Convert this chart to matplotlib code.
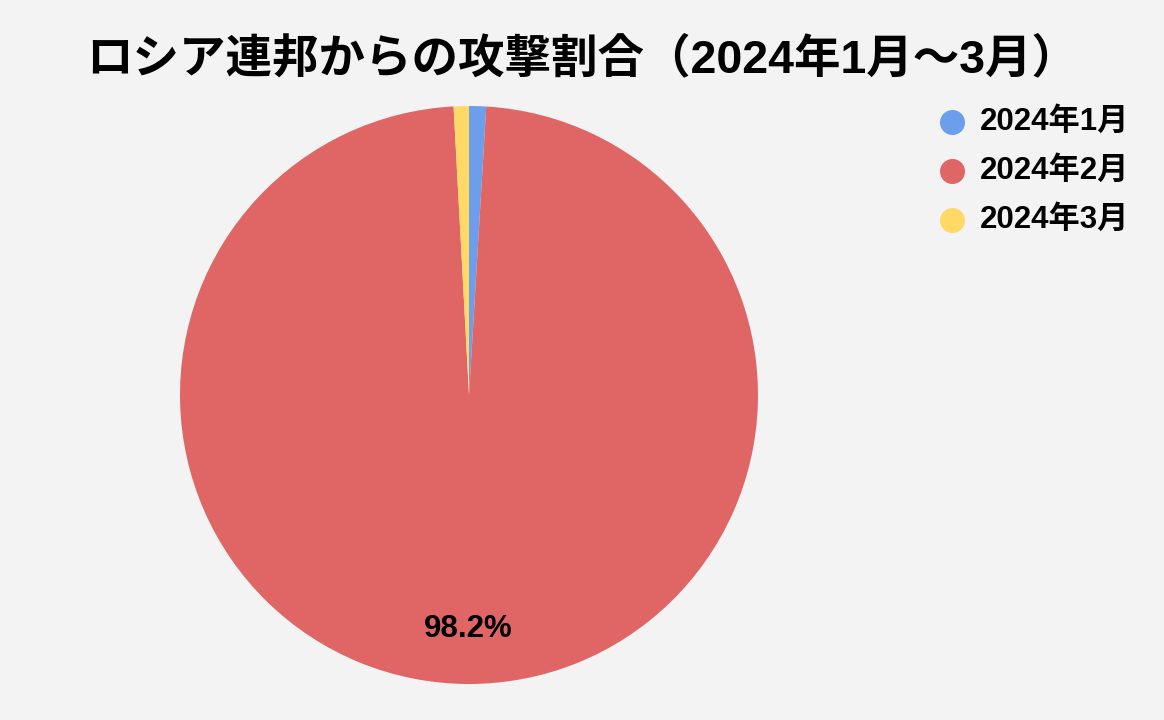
import matplotlib.pyplot as plt
from matplotlib.lines import Line2D

plt.rcParams['font.family'] = ['Liberation Sans', 'Noto Sans CJK JP', 'DejaVu Sans']

labels = ['2024年1月', '2024年2月', '2024年3月']
shares = [0.95, 98.2, 0.85]
colors = ['#6d9eeb', '#e06666', '#ffd966']
title = 'ロシア連邦からの攻撃割合（2024年1月～3月）'
bg = '#f3f3f3'

fig = plt.figure(figsize=(11.64, 7.2), dpi=100, facecolor=bg)

# pie: centre (469, 395) px, radius 289 px
W, H = 1164, 720
cx, cy, r = 469, 395, 289
ax = fig.add_axes([(cx - r) / W, (H - cy - r) / H, 2 * r / W, 2 * r / H])
ax.set_facecolor(bg)


def pct(v):
    return f'{v:.1f}%' if v > 5 else ''


wedges, texts, autotexts = ax.pie(
    shares, colors=colors, startangle=90, counterclock=False,
    autopct=pct, pctdistance=0.81,
    wedgeprops=dict(linewidth=0), textprops=dict(fontsize=22.5, fontweight='bold', color='black'))
ax.set_aspect('equal')
ax.set_xlim(-1, 1)
ax.set_ylim(-1, 1)

fig.text(582 / W, 1 - 60 / H, title, ha='center', va='center',
         fontsize=33.5, fontweight='bold')

# legend, drawn by hand
for i, (lab, c) in enumerate(zip(labels, colors)):
    y = 1 - (122 + 49 * i) / H
    fig.add_artist(Line2D([952 / W], [y], marker='o', linestyle='none', markersize=17,
                          markerfacecolor=c, markeredgecolor=c, transform=fig.transFigure))
    fig.text(980 / W, y, lab, ha='left', va='center', fontsize=22.5, fontweight='bold')

fig.savefig('out.png', dpi=100, facecolor=bg)
